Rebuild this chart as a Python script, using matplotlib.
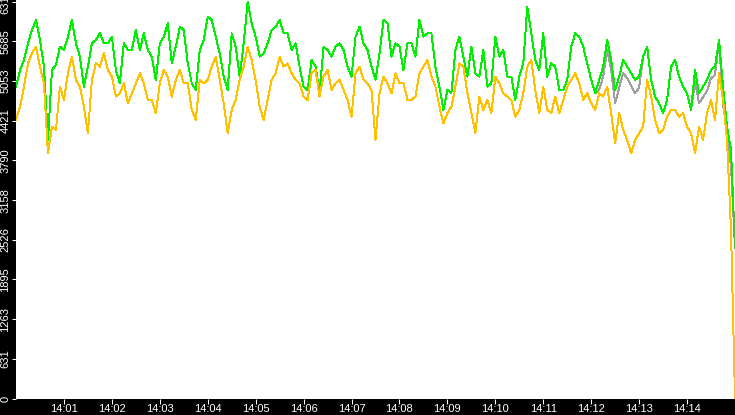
import numpy as np
import matplotlib
matplotlib.use("Agg")
import matplotlib.pyplot as plt

# samples every 5 seconds from 14:00:00 to 14:15:00
step_s = 5

green = [4966, 5231, 5390, 5655, 5867, 6026, 5708, 5284, 4118, 5231,
         5310, 5602, 5549, 5761, 6026, 5655, 5443, 4966, 5284, 5655,
         5708, 5814, 5655, 5655, 5761, 5231, 5019, 5655, 5549, 5549,
         5867, 5549, 5814, 5549, 5443, 5072, 5655, 5761, 5973, 5337,
         5602, 5920, 5867, 5337, 5019, 4913, 5549, 5708, 6079, 6026,
         5761, 5496, 5125, 4913, 5814, 5602, 5125, 5655, 6317, 5973,
         5761, 5443, 5496, 5655, 5867, 5920, 6026, 5814, 5814, 5549,
         5655, 5284, 4966, 4913, 5390, 5284, 4860, 5602, 5549, 5443,
         5602, 5655, 5549, 5284, 5125, 5761, 5920, 5655, 5549, 5284,
         5072, 5496, 6026, 5973, 5443, 5655, 5602, 5231, 5655, 5655,
         5443, 6026, 5761, 5814, 5814, 5284, 4966, 4595, 4913, 4860,
         5549, 5761, 5443, 5125, 5602, 5178, 5125, 5549, 4966, 5019,
         5761, 5443, 5549, 5125, 5125, 4754, 5125, 5337, 6240, 5814,
         5390, 5231, 5814, 5125, 5337, 5284, 4913, 4913, 5072, 5602,
         5814, 5761, 5602, 5337, 5072, 4860, 5072, 5284, 5708, 5390,
         4913, 5125, 5390, 5284, 5178, 5072, 5125, 5443, 5602, 5072,
         4807, 4701, 4542, 4754, 5284, 5390, 5125, 4966, 4860, 4595,
         5231, 4860, 4966, 5072, 5231, 5284, 5708, 4966, 4330, 3959,
         2400]

gray = [4966, 5231, 5390, 5655, 5867, 6026, 5708, 5284, 4118, 5231,
        5310, 5602, 5549, 5761, 6026, 5655, 5443, 4966, 5284, 5655,
        5708, 5814, 5655, 5655, 5761, 5231, 5019, 5655, 5549, 5549,
        5867, 5549, 5814, 5549, 5443, 5072, 5655, 5761, 5973, 5337,
        5602, 5920, 5867, 5337, 5019, 4913, 5549, 5708, 6079, 6026,
        5761, 5496, 5125, 4913, 5814, 5602, 5125, 5655, 6317, 5973,
        5761, 5443, 5496, 5655, 5867, 5920, 6026, 5814, 5814, 5549,
        5655, 5284, 4966, 4913, 5390, 5284, 4860, 5602, 5549, 5443,
        5602, 5655, 5549, 5284, 5125, 5761, 5920, 5655, 5549, 5284,
        5072, 5496, 6026, 5973, 5443, 5655, 5602, 5231, 5655, 5655,
        5443, 6026, 5761, 5814, 5814, 5284, 4966, 4595, 4913, 4860,
        5549, 5761, 5443, 5125, 5602, 5178, 5125, 5549, 4966, 5019,
        5761, 5443, 5549, 5125, 5125, 4754, 5125, 5337, 6240, 5814,
        5390, 5231, 5814, 5125, 5337, 5284, 4913, 4913, 5072, 5602,
        5814, 5761, 5602, 5337, 5072, 4860, 4913, 5125, 5550, 5230,
        4700, 4950, 5180, 5100, 4980, 4860, 4950, 5443, 5602, 5072,
        4807, 4701, 4542, 4754, 5284, 5390, 5125, 4966, 4860, 4595,
        5050, 4700, 4800, 4900, 5100, 5150, 5708, 4700, 4200, 3700,
        2400]

orange = [4436, 4648, 4966, 5337, 5496, 5602, 5284, 5019, 3906, 4330,
          4277, 4966, 4754, 5178, 5443, 5072, 4966, 4648, 4224, 5072,
          5337, 5284, 5496, 5231, 5125, 4807, 4860, 5019, 4701, 4860,
          5019, 5178, 5019, 4754, 4754, 4542, 5019, 5231, 5125, 4807,
          5072, 5231, 5019, 5019, 4595, 4436, 5072, 5019, 5072, 5284,
          5443, 5072, 4701, 4224, 4595, 4754, 5072, 5284, 5602, 5390,
          5072, 4648, 4436, 4754, 5072, 5178, 5443, 5284, 5337, 5178,
          5072, 5019, 4807, 4754, 5178, 5231, 4807, 5125, 5231, 4913,
          5019, 5072, 4913, 4754, 4489, 5178, 5284, 5072, 5019, 4913,
          4118, 4860, 5125, 5019, 4860, 5178, 5019, 5019, 4754, 4754,
          4807, 5178, 5284, 5390, 5125, 4966, 4648, 4383, 4542, 4648,
          4966, 5337, 5284, 4860, 4542, 4224, 4807, 4595, 4754, 4542,
          5125, 5019, 4860, 4807, 4754, 4489, 4595, 4860, 5284, 5390,
          4913, 4542, 4966, 4595, 4542, 4807, 4542, 4754, 4966, 5072,
          5178, 5019, 4754, 4860, 4701, 4595, 4860, 4807, 4966, 4542,
          4065, 4542, 4277, 4118, 3906, 4118, 4224, 4330, 5072, 4807,
          4436, 4224, 4277, 4489, 4595, 4595, 4489, 4542, 4330, 4224,
          3906, 4330, 4118, 4542, 4754, 4436, 5178, 4754, 4118, 2684,
          0]

y_ticks = [0, 631, 1263, 1895, 2526, 3158, 3790, 4421, 5053, 5685, 6317]
x_tick_labels = ["14:01", "14:02", "14:03", "14:04", "14:05", "14:06", "14:07",
                 "14:08", "14:09", "14:10", "14:11", "14:12", "14:13", "14:14"]

# seconds since 14:00:00
secs = np.arange(len(green)) * step_s
x_ticks = [60 * (i + 1) for i in range(len(x_tick_labels))]

fig = plt.figure(figsize=(7.35, 4.15), dpi=100, facecolor="black")
ax = fig.add_axes([16 / 735, 16.5 / 415, 1 - 16 / 735, 1 - 16.5 / 415])
ax.set_facecolor("white")

lw = 0.7
ax.plot(secs, gray, color="#a0a0a0", lw=lw, antialiased=False)
ax.plot(secs, green, color="#00ee00", lw=lw, antialiased=False)
ax.plot(secs, orange, color="#ffc000", lw=lw, antialiased=False)

ax.set_xlim(secs[0], secs[-1])
ax.set_ylim(0, 6345)

ax.set_yticks(y_ticks)
ax.set_yticklabels([str(v) for v in y_ticks], rotation=90, va="center",
                   family="Liberation Sans", fontsize=8, color="white")
ax.set_xticks(x_ticks)
ax.set_xticklabels(x_tick_labels, family="Liberation Sans", fontsize=8,
                   color="white")

ax.tick_params(axis="y", colors="white", length=3, width=0.75, pad=1)
ax.tick_params(axis="x", colors="white", length=3.5, width=0.75, pad=0.5)
for sp in ax.spines.values():
    sp.set_visible(False)

fig.savefig("out.png", dpi=100, facecolor="black")
